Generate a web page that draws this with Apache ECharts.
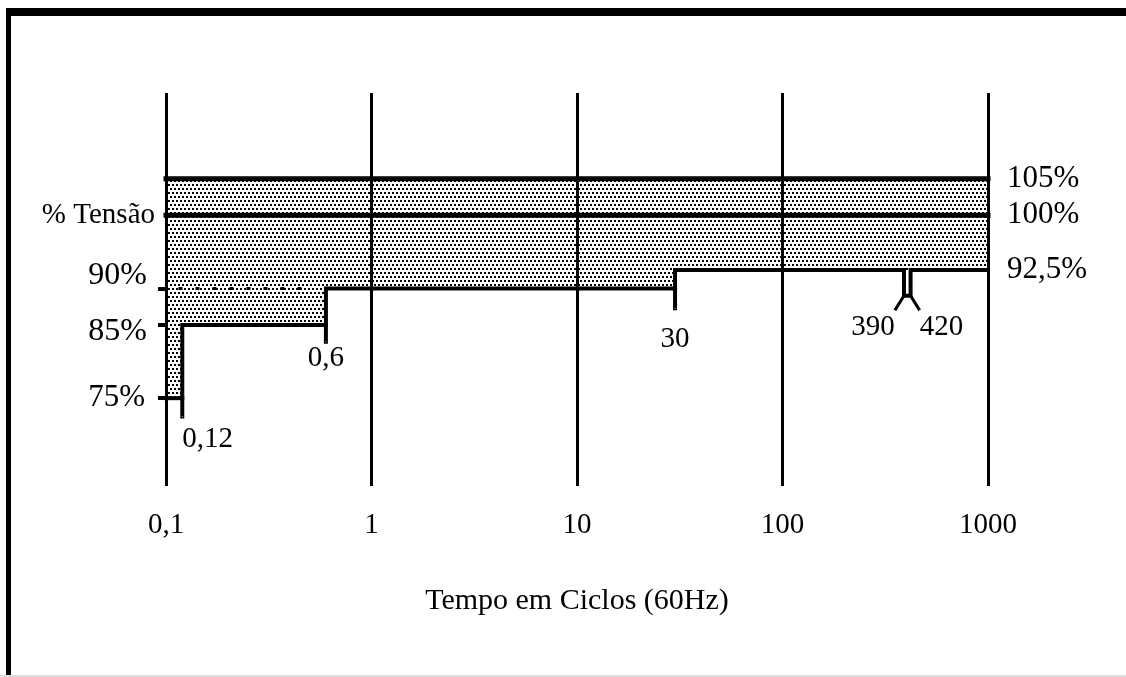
<!DOCTYPE html>
<html>
<head>
<meta charset="utf-8">
<title>Tensão x Tempo</title>
<script src="https://cdn.jsdelivr.net/npm/echarts@6/dist/echarts.min.js"></script>
<style>
  html, body { margin: 0; padding: 0; background: #fff; }
  #chart { width: 1126px; height: 677px; }
</style>
</head>
<body>
<div id="chart"></div>
<script>
// eixo x: tempo em ciclos (log)
const xTickLabels = ['0,1', '1', '10', '100', '1000'];
// rótulos de tensão (%)
const leftValues = [75, 85, 90];
const nameValue = 100;
const rightValues = [92.5, 100, 105];

// limites de tensão
const upperLimit = [[0.1, 105], [1000, 105]];
const nominal = [[0.1, 100], [1000, 100]];
// limite inferior da faixa sombreada
const lowerLimit = [[0.1, 75], [0.12, 75], [0.12, 85], [0.6, 85], [0.6, 90], [30, 90], [30, 92.5], [1000, 92.5]];

// tracos do contorno
const step75 = [[0.1, 75], [0.12, 75]];
const step85 = [[0.12, 72.5], [0.12, 85], [0.6, 85]];
const step90 = [[0.6, 82.7], [0.6, 90], [30, 90]];
const step925 = [[30, 87.3], [30, 92.5], [390, 92.5], [390, 89], [420, 89], [420, 92.5], [1000, 92.5]];
const leg390 = [[352, 87], [390, 89]];
const leg420 = [[420, 89], [465, 87]];
const dotted90 = [[0.115, 90], [0.5, 90]];

// marcas de tempo
const markTimes = [0.12, 0.6, 30, 352, 465];
const markVolts = [72.5, 82.7, 87.3, 87, 87];
const markTexts = ['0,12', '0,6', '30', '390', '420'];

const font = "'Liberation Serif', 'Times New Roman', serif";

// padrao pontilhado da area
const pat = document.createElement('canvas');
pat.width = 4;
pat.height = 8;
const pc = pat.getContext('2d');
pc.fillStyle = '#fff';
pc.fillRect(0, 0, 4, 8);
pc.fillStyle = '#000';
pc.fillRect(0, 0, 2, 2);
pc.fillRect(2, 4, 2, 2);

function lineSeries(data, width, extra) {
  return Object.assign({
    type: 'line',
    data: data,
    symbol: 'none',
    silent: true,
    lineStyle: { color: '#000', width: width, cap: 'square', join: 'miter' },
    z: 3
  }, extra || {});
}

const markAlign = ['left', 'center', 'center', 'right', 'left'];
const markDist = [8, 2, 16, 2, 2];

const chart = echarts.init(document.getElementById('chart'), null, { renderer: 'canvas' });

const option = {
  animation: false,
  backgroundColor: '#fff',
  textStyle: { fontFamily: font, color: '#000' },
  grid: { left: 166, right: 138, top: 93, bottom: 191 },
  xAxis: {
    type: 'log',
    logBase: 10,
    min: 0.1,
    max: 1000,
    z: 1,
    name: 'Tempo em Ciclos (60Hz)',
    nameLocation: 'middle',
    nameGap: 100,
    nameTextStyle: { fontFamily: font, fontSize: 30, color: '#000' },
    axisLine: { show: false },
    axisTick: { show: false },
    minorTick: { show: false },
    axisLabel: {
      margin: 25,
      fontSize: 29,
      color: '#000',
      fontFamily: font,
      formatter: (v, i) => xTickLabels[i]
    },
    splitLine: { show: true, lineStyle: { color: '#000', width: 3 } }
  },
  yAxis: [
    {
      type: 'value',
      position: 'left',
      min: 63,
      max: 116.7,
      axisLine: { show: false },
      splitLine: { show: false },
      axisTick: {
        show: true,
        customValues: leftValues,
        length: 8,
        lineStyle: { color: '#000', width: 4 }
      },
      axisLabel: {
        customValues: leftValues.concat([nameValue]),
        margin: 11,
        fontSize: 31,
        color: '#000',
        fontFamily: font,
        formatter: v => {
          if (v === nameValue) return '{n|% Tensão}';
          if (v === 90) return '{up|' + v + '%}';
          if (v === 85) return '{dn|' + v + '%}';
          return '{p|' + v + '%}';
        },
        rich: {
          n: { fontSize: 29, fontFamily: font, color: '#000' },
          p: { fontSize: 31, fontFamily: font, color: '#000', padding: [0, 10, 0, 0] },
          up: { fontSize: 32, fontFamily: font, color: '#000', padding: [0, 8, 26, 0] },
          dn: { fontSize: 32, fontFamily: font, color: '#000', padding: [14, 8, 0, 0] }
        }
      }
    },
    {
      type: 'value',
      position: 'right',
      min: 63,
      max: 116.7,
      axisLine: { show: false },
      splitLine: { show: false },
      axisTick: { show: false },
      axisLabel: {
        customValues: rightValues,
        margin: 19,
        fontSize: 31,
        color: '#000',
        fontFamily: font,
        formatter: v => String(v).replace('.', ',') + '%'
      }
    }
  ],
  graphic: [
    { type: 'rect', shape: { x: 6, y: 8, width: 1120, height: 8 }, style: { fill: '#000' } },
    { type: 'rect', shape: { x: 6, y: 8, width: 5, height: 669 }, style: { fill: '#000' } },
    { type: 'rect', shape: { x: 0, y: 675, width: 1126, height: 2 }, style: { fill: '#ddd' } }
  ],
  series: [
    {
      type: 'line',
      data: lowerLimit,
      symbol: 'none',
      silent: true,
      z: 0,
      lineStyle: { width: 0 },
      areaStyle: { origin: 105, opacity: 1, color: { image: pat, repeat: 'repeat' } }
    },
    lineSeries(upperLimit, 5),
    lineSeries(nominal, 5),
    lineSeries(step75, 4),
    lineSeries(step85, 4),
    lineSeries(step90, 4),
    lineSeries(step925, 4),
    lineSeries(leg390, 3, { lineStyle: { color: '#000', width: 3 } }),
    lineSeries(leg420, 3, { lineStyle: { color: '#000', width: 3 } }),
    lineSeries(dotted90, 3, { lineStyle: { color: '#000', width: 3, type: [4, 13] } }),
    {
      type: 'scatter',
      symbolSize: 1,
      silent: true,
      itemStyle: { color: '#fff', opacity: 1 },
      z: 4,
      data: markTimes.map((t, i) => ({
        value: [t, markVolts[i]],
        label: {
          show: true,
          position: 'bottom',
          align: markAlign[i],
          distance: markDist[i],
          formatter: markTexts[i],
          fontSize: 29,
          fontFamily: font,
          color: '#000',
          opacity: 1,
          textBorderWidth: 0
        }
      }))
    }
  ]
};

chart.setOption(option);
</script>
</body>
</html>
